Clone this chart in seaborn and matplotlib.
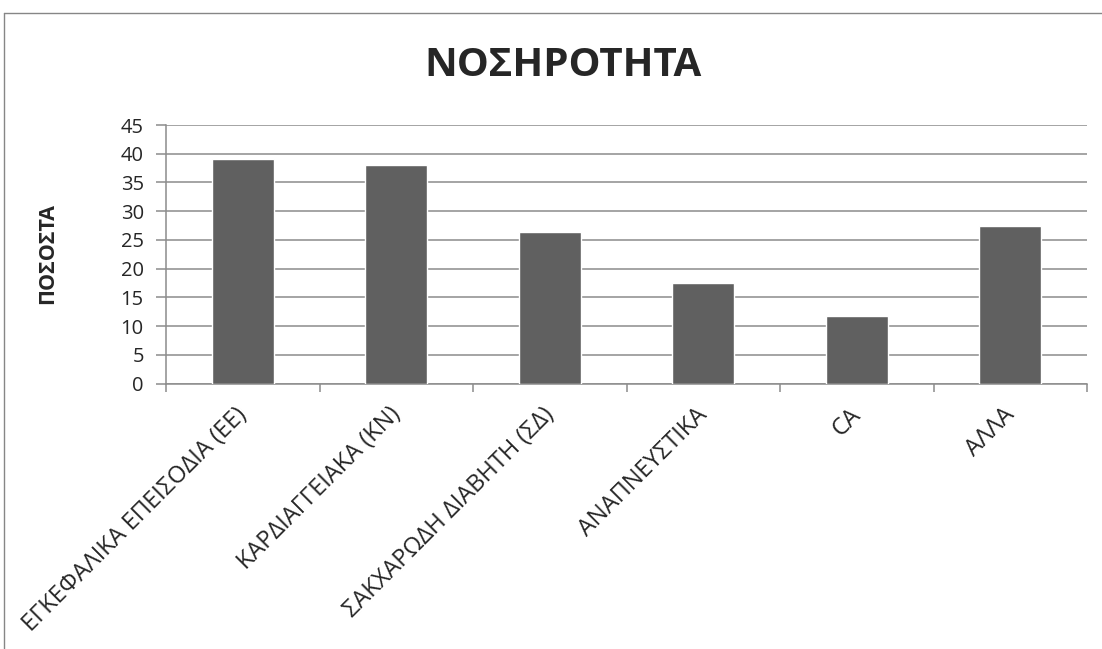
import matplotlib
matplotlib.use("Agg")
import matplotlib.pyplot as plt
from matplotlib.lines import Line2D
from matplotlib.transforms import ScaledTranslation
import seaborn as sns
import pandas as pd

categories = [
    "ΕΓΚΕΦΑΛΙΚΑ ΕΠΕΙΣΟΔΙΑ (ΕΕ)",
    "ΚΑΡΔΙΑΓΓΕΙΑΚΑ (ΚΝ)",
    "ΣΑΚΧΑΡΩΔΗ ΔΙΑΒΗΤΗ (ΣΔ)",
    "ΑΝΑΠΝΕΥΣΤΙΚΑ",
    "CA",
    "ΑΛΛΑ",
]
values = [39.1, 38.1, 26.4, 17.5, 11.7, 27.4]
y_ticks = [0, 5, 10, 15, 20, 25, 30, 35, 40, 45]

title = "ΝΟΣΗΡΟΤΗΤΑ"
y_label = "ΠΟΣΟΣΤΑ"

sns.set_theme(style="white")
plt.rcParams["font.family"] = ["Open Sans", "DejaVu Sans"]

W, H = 1102, 649
fig = plt.figure(figsize=(W / 100, H / 100), dpi=100)
fig.patch.set_facecolor("white")

ax = fig.add_axes([166 / W, 1 - 383.5 / H, (1087 - 166) / W, (383.5 - 125) / H])

df = pd.DataFrame({"cat": categories, "val": values})
sns.barplot(data=df, x="cat", y="val", color="#606060", saturation=1,
            width=0.405, ax=ax, zorder=3)

grid_col = "#8c8c8c"
ax.set_xlim(-0.5, len(categories) - 0.5)
ax.set_ylim(0, 45)
ax.set_yticks(y_ticks)
ax.yaxis.grid(True, color=grid_col, linewidth=1.1, zorder=0)
ax.set_axisbelow(True)

for side in ["top", "right"]:
    ax.spines[side].set_visible(False)
for side in ["left", "bottom"]:
    ax.spines[side].set_color(grid_col)
    ax.spines[side].set_linewidth(1.1)

ax.set_xticks(range(len(categories)))
ax.set_xticklabels(categories, rotation=45, ha="right", va="center",
                   rotation_mode="anchor", fontsize=17)
ax.tick_params(axis="x", which="major", length=0, pad=20)
shift = ScaledTranslation(1 / 100, 0, fig.dpi_scale_trans)
for lbl in ax.get_xticklabels():
    lbl.set_transform(lbl.get_transform() + shift)
ax.set_xticks([i - 0.5 for i in range(len(categories) + 1)], minor=True)
ax.tick_params(axis="x", which="minor", length=6, width=1.1, color=grid_col,
               direction="out", bottom=True)
ax.tick_params(axis="y", length=7, width=1.1, color=grid_col, direction="out",
               left=True, labelsize=14.5, pad=9)

ax.set_xlabel("")
ax.set_ylabel(y_label, fontsize=15.5, fontweight="bold")
ax.yaxis.set_label_coords(58 / W, 1 - 254 / H, transform=fig.transFigure)

fig.text(563 / W, 1 - 65 / H, title, ha="center", va="center",
         fontsize=29, fontweight="bold")

# chart area frame (left and top edges visible)
fig.add_artist(Line2D([4 / W, 4 / W], [0, 1 - 13 / H], transform=fig.transFigure,
                      color="#868686", linewidth=1.0))
fig.add_artist(Line2D([4 / W, 1], [1 - 13 / H, 1 - 13 / H], transform=fig.transFigure,
                      color="#868686", linewidth=1.0))

fig.savefig("out.png", dpi=100, facecolor="white")
